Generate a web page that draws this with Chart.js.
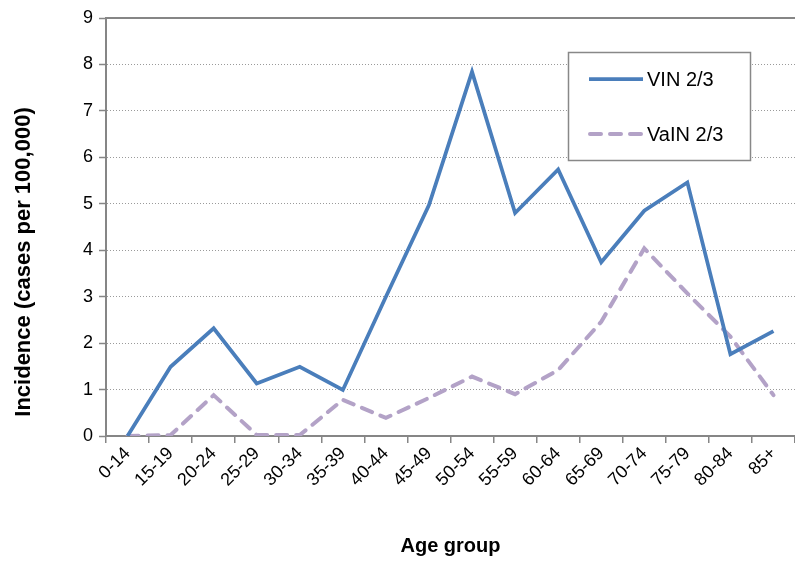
<!DOCTYPE html>
<html>
<head>
<meta charset="utf-8">
<script src="https://cdn.jsdelivr.net/npm/chart.js@4.4.0/dist/chart.umd.min.js"></script>
<style>
    html, body { margin: 0; padding: 0; background: #fff; }
    #wrap { width: 795px; height: 561px; position: relative; }
</style>
</head>
<body>
<div id="wrap"><canvas id="incidenceChart"></canvas></div>
<script>
// ================================
// Data
// ================================

const ageGroups = ["0-14", "15-19", "20-24", "25-29", "30-34", "35-39", "40-44", "45-49",
    "50-54", "55-59", "60-64", "65-69", "70-74", "75-79", "80-84", "85+"];

const vinValues = [0, 1.49, 2.32, 1.13, 1.49, 0.99, 3.0, 4.97, 7.84, 4.8, 5.74, 3.74, 4.85, 5.46, 1.76, 2.26];

const vainValues = [0, 0.02, 0.88, 0.02, 0.02, 0.78, 0.39, 0.82, 1.28, 0.9, 1.42, 2.46, 4.04, 3.07, 2.14, 0.88];

const yTicks = [0, 1, 2, 3, 4, 5, 6, 7, 8, 9];

const yTitle = "Incidence (cases per 100,000)";

const FONT = "'Liberation Sans', Arial, sans-serif";
const AXIS_GRAY = "#868686";

// ================================
// Plot frame, y title + boxed legend
// ================================

const framePlugin = {
    id: "frame",
    afterDraw(chart) {
        const ctx = chart.ctx;
        const a = chart.chartArea;

        // top border of plot area
        ctx.save();
        ctx.strokeStyle = AXIS_GRAY;
        ctx.lineWidth = 2;
        ctx.beginPath();
        ctx.moveTo(a.left, a.top);
        ctx.lineTo(a.right, a.top);
        ctx.stroke();

        // y axis title (sits a bit low, like the original)
        ctx.save();
        ctx.translate(24, 262);
        ctx.rotate(-Math.PI / 2);
        ctx.fillStyle = "#000";
        ctx.font = "bold 22px " + FONT;
        ctx.textAlign = "center";
        ctx.textBaseline = "middle";
        ctx.fillText(yTitle, 0, 0);
        ctx.restore();

        // legend box
        const bx = 568.5, by = 52.5, bw = 182, bh = 108;
        ctx.fillStyle = "#fff";
        ctx.fillRect(bx, by, bw, bh);
        ctx.strokeStyle = "#888";
        ctx.lineWidth = 1.5;
        ctx.strokeRect(bx, by, bw, bh);

        chart.data.datasets.forEach((ds, i) => {
            const y = 79 + i * 55;
            ctx.strokeStyle = ds.borderColor;
            ctx.lineWidth = ds.borderWidth;
            ctx.lineCap = ds.borderDash ? "round" : "butt";
            ctx.setLineDash(ds.borderDash || []);
            ctx.beginPath();
            ctx.moveTo(ds.borderDash ? 590 : 589, y);
            ctx.lineTo(ds.borderDash ? 641 : 643, y);
            ctx.stroke();
            ctx.setLineDash([]);
            ctx.fillStyle = "#000";
            ctx.font = "20px " + FONT;
            ctx.textBaseline = "middle";
            ctx.textAlign = "left";
            ctx.fillText(ds.label, 647, y + 1);
        });
        ctx.restore();
    }
};

// ================================
// Chart
// ================================

new Chart(document.getElementById("incidenceChart"), {

    type: "line",

    data: {
        labels: ageGroups,
        datasets: [
            {
                label: "VIN 2/3",
                data: vinValues,
                borderColor: "#4A7EBB",
                borderWidth: 3.75,
                pointRadius: 0,
                tension: 0,
                borderJoinStyle: "miter"
            },
            {
                label: "VaIN 2/3",
                data: vainValues,
                borderColor: "#B3A2C7",
                borderWidth: 4,
                borderDash: [11, 9],
                borderCapStyle: "round",
                pointRadius: 0,
                tension: 0
            }
        ]
    },

    options: {
        responsive: true,
        maintainAspectRatio: false,
        animation: false,
        layout: { padding: { top: 18, right: 0, left: 0, bottom: 0 } },
        plugins: {
            legend: { display: false },
            tooltip: { enabled: false }
        },
        scales: {
            x: {
                offset: true,
                afterFit: s => { s.height = 125; },
                grid: {
                    offset: true,
                    drawOnChartArea: false,
                    drawTicks: true,
                    tickLength: 7,
                    color: AXIS_GRAY,
                    lineWidth: 1.5
                },
                border: { color: AXIS_GRAY, width: 2 },
                ticks: {
                    color: "#000",
                    font: { family: FONT, size: 18 },
                    minRotation: 45,
                    maxRotation: 45,
                    autoSkip: false,
                    padding: 0
                },
                title: {
                    display: true,
                    text: "Age group",
                    color: "#000",
                    font: { family: FONT, size: 20, weight: "bold" },
                    padding: { top: 0, bottom: 3 }
                }
            },
            y: {
                min: 0,
                max: 9,
                afterFit: s => { s.width = 106; },
                afterBuildTicks: s => { s.ticks = yTicks.map(v => ({ value: v })); },
                grid: {
                    color: "#9a9a9a",
                    lineWidth: 1,
                    drawTicks: true,
                    tickLength: 7,
                    tickColor: AXIS_GRAY,
                    tickWidth: 1.5
                },
                border: { color: AXIS_GRAY, width: 2, dash: [1, 2] },
                ticks: {
                    color: "#000",
                    font: { family: FONT, size: 18 },
                    padding: 6
                },
                title: { display: false }
            }
        }
    },

    plugins: [framePlugin]

});
</script>
</body>
</html>
